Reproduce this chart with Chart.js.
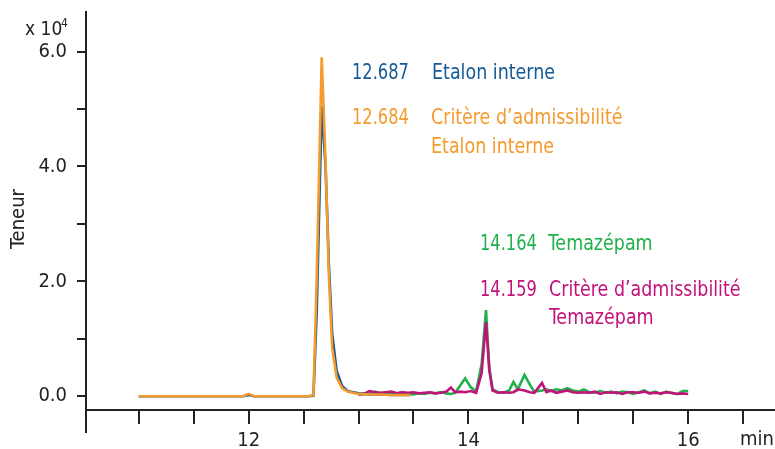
<!DOCTYPE html>
<html>
<head>
<meta charset="utf-8">
<script src="https://cdn.jsdelivr.net/npm/chart.js@4/dist/chart.umd.min.js"></script>
<style>
  html, body { margin: 0; padding: 0; background: #fff; }
  #wrap { width: 775px; height: 449px; }
</style>
</head>
<body>
<div id="wrap"><canvas id="chart"></canvas></div>
<script>
// retention time (min) and response (x 10^4)
var timeIS = [11.0, 11.5, 11.95, 12.0, 12.05, 12.55, 12.59, 12.62, 12.665, 12.7, 12.73, 12.76, 12.8, 12.85, 12.9, 13.0, 13.1, 13.2, 13.3, 13.47];
var etalon = [0, 0, 0, 0.02, 0, 0, 0.01, 1.5, 5.05, 4.0, 2.3, 1.1, 0.45, 0.18, 0.09, 0.05, 0.03, 0.03, 0.02, 0.02];
var etalonCritere = [0, 0, 0, 0.04, 0, 0, 0.02, 2.1, 5.9, 4.1, 2.1, 0.85, 0.33, 0.14, 0.08, 0.04, 0.03, 0.03, 0.02, 0.02];

var timeTema = [13.00, 13.05, 13.10, 13.15, 13.20, 13.25, 13.30, 13.35, 13.40, 13.45, 13.50, 13.55, 13.60, 13.65, 13.70, 13.75, 13.80, 13.84, 13.88, 13.93,
  13.97, 14.02, 14.07, 14.12, 14.16, 14.19, 14.22, 14.27, 14.32, 14.37, 14.41, 14.45, 14.51, 14.56, 14.60, 14.67, 14.71, 14.75, 14.80, 14.85,
  14.90, 14.95, 15.00, 15.05, 15.10, 15.15, 15.20, 15.25, 15.30, 15.35, 15.40, 15.45, 15.50, 15.55, 15.60, 15.65, 15.70, 15.75, 15.80, 15.85,
  15.90, 15.95, 16.00];
var temazepam = [0.02, 0.05, 0.04, 0.08, 0.05, 0.06, 0.04, 0.05, 0.07, 0.04, 0.03, 0.05, 0.04, 0.06, 0.05, 0.07, 0.05, 0.04, 0.06, 0.2,
  0.31, 0.16, 0.08, 0.55, 1.5, 0.5, 0.12, 0.07, 0.06, 0.1, 0.25, 0.12, 0.37, 0.2, 0.08, 0.1, 0.12, 0.09, 0.12, 0.1,
  0.14, 0.1, 0.08, 0.12, 0.07, 0.06, 0.09, 0.06, 0.08, 0.05, 0.08, 0.07, 0.04, 0.07, 0.1, 0.05, 0.08, 0.04, 0.08, 0.05,
  0.04, 0.09, 0.09];
var temazepamCritere = [0.03, 0.04, 0.09, 0.07, 0.06, 0.07, 0.08, 0.05, 0.07, 0.06, 0.07, 0.05, 0.06, 0.07, 0.05, 0.06, 0.08, 0.15, 0.07, 0.08,
  0.07, 0.09, 0.06, 0.4, 1.29, 0.45, 0.1, 0.06, 0.07, 0.06, 0.07, 0.12, 0.1, 0.07, 0.06, 0.23, 0.07, 0.1, 0.06, 0.08,
  0.1, 0.07, 0.06, 0.07, 0.06, 0.08, 0.04, 0.07, 0.06, 0.07, 0.04, 0.07, 0.07, 0.06, 0.08, 0.05, 0.06, 0.05, 0.07, 0.06,
  0.04, 0.05, 0.04];

var yTicks = [0, 1, 2, 3, 4, 5, 6];
var yLabels = ['0.0', '', '2.0', '', '4.0', '', '6.0'];
var xTicks = [11, 11.5, 12, 12.5, 13, 13.5, 14, 14.5, 15, 15.5, 16, 16.5];
var xLabels = ['', '', '12', '', '', '', '14', '', '', '', '16', ''];

var FONT = "'DejaVu Sans Condensed', 'Liberation Sans Narrow', sans-serif";
var AXIS = '#222';

function pts(xs, ys) {
    return xs.map(function (x, i) { return {x: x, y: ys[i]}; });
}

function series(label, xs, ys, color) {
    return {
        label: label,
        data: pts(xs, ys),
        borderColor: color,
        borderWidth: 2.6,
        pointRadius: 0,
        tension: 0,
        fill: false
    };
}

var annotations = [
    {x: 352, y: 79, text: '12.687', color: '#145a96', num: true},
    {x: 432, y: 79, text: 'Etalon interne', color: '#145a96'},
    {x: 352, y: 124, text: '12.684', color: '#f59a2c', num: true},
    {x: 431, y: 124, text: 'Critère d’admissibilité', color: '#f59a2c'},
    {x: 431, y: 153, text: 'Etalon interne', color: '#f59a2c'},
    {x: 480, y: 250, text: '14.164', color: '#22b04c', num: true},
    {x: 548, y: 250, text: 'Temazépam', color: '#22b04c'},
    {x: 480, y: 296, text: '14.159', color: '#c2127a', num: true},
    {x: 549, y: 296, text: 'Critère d’admissibilité', color: '#c2127a'},
    {x: 549, y: 324, text: 'Temazépam', color: '#c2127a'}
];

var extras = {
    id: 'extras',
    afterDraw: function (chart) {
        var ctx = chart.ctx;
        var area = chart.chartArea;
        ctx.save();

        // y axis runs a little below the x axis
        ctx.strokeStyle = AXIS;
        ctx.lineWidth = 2;
        ctx.beginPath();
        ctx.moveTo(area.left, area.bottom);
        ctx.lineTo(area.left, area.bottom + 23);
        ctx.stroke();

        ctx.textBaseline = 'alphabetic';
        ctx.fillStyle = AXIS;
        ctx.font = '19px ' + FONT;
        ctx.textAlign = 'left';
        ctx.fillText('x 10', 25, 35);
        ctx.font = '12px ' + FONT;
        ctx.fillText('4', 61, 27);

        ctx.font = '20px ' + FONT;
        ctx.textAlign = 'center';
        ctx.textBaseline = 'middle';
        ctx.fillText('min', 757, 440);

        ctx.save();
        ctx.translate(19, 219);
        ctx.rotate(-Math.PI / 2);
        ctx.fillText('Teneur', 0, 0);
        ctx.restore();

        ctx.textAlign = 'left';
        ctx.textBaseline = 'alphabetic';
        ctx.font = '21px ' + FONT;
        annotations.forEach(function (a) {
            ctx.save();
            ctx.translate(a.x, a.y);
            ctx.scale(a.num ? 0.86 : 0.925, 1);
            ctx.fillStyle = a.color;
            ctx.fillText(a.text, 0, 0);
            ctx.restore();
        });
        ctx.restore();
    }
};

new Chart(document.getElementById('chart'), {
    type: 'line',
    data: {
        datasets: [
            series('Critère d’admissibilité Etalon interne', timeIS, etalonCritere, '#f59a2c'),
            series('Etalon interne', timeIS, etalon, '#145a96'),
            series('Critère d’admissibilité Temazépam', timeTema, temazepamCritere, '#c2127a'),
            series('Temazépam', timeTema, temazepam, '#22b04c')
        ]
    },
    options: {
        responsive: true,
        maintainAspectRatio: false,
        animation: false,
        layout: {padding: {top: 12, right: 0, left: 0, bottom: 0}},
        plugins: {
            legend: {display: false},
            tooltip: {enabled: false}
        },
        scales: {
            x: {
                type: 'linear',
                min: 10.52,
                max: 16.79,
                afterBuildTicks: function (scale) {
                    scale.ticks = xTicks.map(function (v) { return {value: v}; });
                },
                afterFit: function (scale) {
                    scale.height = 39;
                    scale.paddingLeft = 0;
                    scale.paddingRight = 0;
                },
                grid: {drawOnChartArea: false, drawTicks: true, tickLength: 14, color: AXIS, lineWidth: 2},
                border: {display: true, color: AXIS, width: 2},
                ticks: {
                    autoSkip: false,
                    maxRotation: 0,
                    padding: 5,
                    color: AXIS,
                    font: {family: FONT, size: 20},
                    callback: function (v) {
                        var i = xTicks.indexOf(v);
                        return i >= 0 ? xLabels[i] : '';
                    }
                }
            },
            y: {
                type: 'linear',
                min: -0.24,
                max: 6.69,
                afterBuildTicks: function (scale) {
                    scale.ticks = yTicks.map(function (v) { return {value: v}; });
                },
                afterFit: function (scale) {
                    scale.width = 86;
                    scale.paddingTop = 0;
                    scale.paddingBottom = 0;
                },
                grid: {drawOnChartArea: false, drawTicks: true, tickLength: 9, color: AXIS, lineWidth: 2},
                border: {display: true, color: AXIS, width: 2},
                ticks: {
                    autoSkip: false,
                    padding: 10,
                    color: AXIS,
                    font: {family: FONT, size: 20},
                    callback: function (v) {
                        var i = yTicks.indexOf(v);
                        return i >= 0 ? yLabels[i] : '';
                    }
                }
            }
        }
    },
    plugins: [extras]
});
</script>
</body>
</html>
